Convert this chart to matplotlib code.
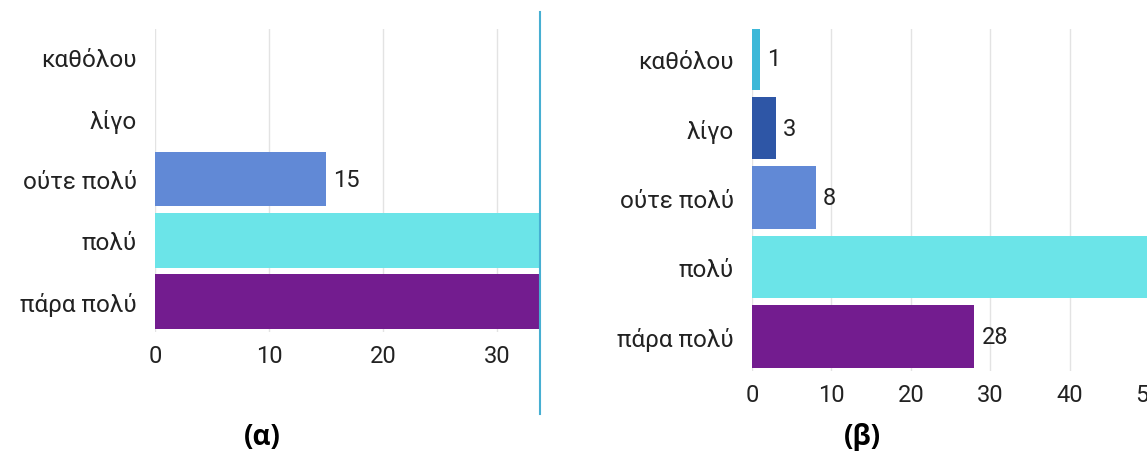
import matplotlib.pyplot as plt
from matplotlib.lines import Line2D

plt.rcParams['font.family'] = ['Roboto', 'DejaVu Sans']

categories = ['καθόλου', 'λίγο', 'ούτε πολύ', 'πολύ', 'πάρα πολύ']
values_a = [0, 0, 15, 40, 42]
values_b = [1, 3, 8, 58, 28]
colors = ['#3db8d8', '#2e56a6', '#6189d6', '#6be4e8', '#731c8f']
panel_titles = ['(α)', '(β)']

W, H = 1147, 452
fig = plt.figure(figsize=(W / 100, H / 100), dpi=100)


def px_axes(left, right, top, bottom):
    # convert pixel box to figure fractions
    return fig.add_axes([left / W, 1 - bottom / H, (right - left) / W, (bottom - top) / H])


def draw_panel(ax, values, xmax, ytop, bar_h, ticks):
    y = range(len(categories))
    ax.barh(y, values, height=bar_h, color=colors, zorder=2)
    for i, v in enumerate(values):
        if 0 < v < xmax:
            ax.text(v + xmax * 0.018, i, str(v), va='center', ha='left', fontsize=17, color='#222222')
    ax.set_xlim(0, xmax)
    ax.set_ylim(4.5, ytop)
    ax.set_yticks(list(y))
    ax.set_yticklabels(categories, fontsize=17.5, color='#222222')
    ax.set_xticks(ticks)
    ax.set_xticklabels([str(t) for t in ticks], fontsize=17, color='#222222')
    ax.tick_params(length=0, pad=9)
    ax.tick_params(axis='y', pad=13)
    ax.grid(axis='x', color='#e3e3e3', linewidth=1, zorder=0)
    for s in ax.spines.values():
        s.set_visible(False)


ax1 = px_axes(155, 540, 30, 333)
draw_panel(ax1, values_a, 33.8, -0.46, 0.89, [0, 10, 20, 30])

ax2 = px_axes(752, 1153, 30, 372)
draw_panel(ax2, values_b, 50.5, -0.43, 0.9, [0, 10, 20, 30, 40, 50])
for lab in ax2.get_xticklabels():
    lab.set_clip_on(False)

# separator line between the panels
fig.add_artist(Line2D([540 / W, 540 / W], [1 - 13 / H, 1 - 415 / H], color='#47afd2', linewidth=1.5))

fig.text(262 / W, 1 - 438 / H, panel_titles[0], ha='center', va='center', fontsize=20,
         fontweight='bold', family=['Open Sans', 'DejaVu Sans'])
fig.text(862 / W, 1 - 438 / H, panel_titles[1], ha='center', va='center', fontsize=20,
         fontweight='bold', family=['Open Sans', 'DejaVu Sans'])

fig.savefig('out.png', dpi=100)
